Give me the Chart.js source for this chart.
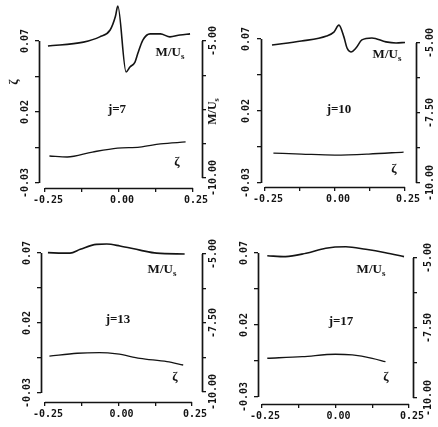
<!DOCTYPE html>
<html>
<head>
<meta charset="utf-8">
<script src="https://cdn.jsdelivr.net/npm/chart.js@4.4.0/dist/chart.umd.min.js"></script>
<style>
  html, body { margin: 0; padding: 0; background: #fff; overflow: hidden; }
  #fig { position: relative; width: 438px; height: 427px; }
  canvas { position: absolute; }
</style>
</head>
<body>
<div id="fig"></div>
<script>
// axis ticks and their labels
const xTicks = [-0.25, -0.125, 0, 0.125, 0.25];
const xTickLabels = ['-0.25', '', '0.00', '', '0.25'];
const zetaTicks = [0.07, 0.045, 0.02, -0.005, -0.03];
const zetaTickLabels = ['0.07', '', '0.02', '', '-0.03'];
const muTicks = [-5, -6.25, -7.5, -8.75, -10];
const muTickLabels = ['-5.00', '', '-7.50', '', '-10.00'];

// j = 7
const muX7 = [-0.24, -0.12, -0.065, -0.03, -0.012, -0.004, 0.024, 0.037, 0.054, 0.064, 0.081, 0.105, 0.14, 0.172, 0.206, 0.24];
const mu7 = [-5.18, -5.04, -4.85, -4.6, -4.1, -3.72, -6.13, -5.95, -5.77, -5.44, -4.96, -4.74, -4.74, -4.85, -4.78, -4.74];
const zetaX7 = [-0.235, -0.175, -0.09, -0.005, 0.07, 0.14, 0.225];
const zeta7 = [-0.011, -0.0117, -0.0082, -0.0054, -0.0047, -0.0025, -0.0011];

// j = 10
const muX10 = [-0.225, -0.12, -0.03, -0.004, 0.014, 0.032, 0.043, 0.057, 0.075, 0.096, 0.132, 0.182, 0.218, 0.25];
const mu10 = [-5.07, -4.93, -4.75, -4.61, -4.36, -4.79, -5.18, -5.32, -5.18, -4.89, -4.82, -4.96, -5.0, -4.98];
const zetaX10 = [-0.22, -0.12, 0.0, 0.12, 0.245];
const zeta10 = [-0.0092, -0.0099, -0.0106, -0.0099, -0.0085];

// j = 13
const muX13 = [-0.24, -0.165, -0.13, -0.075, -0.04, 0.005, 0.073, 0.13, 0.225];
const mu13 = [-4.95, -4.97, -4.83, -4.65, -4.64, -4.71, -4.86, -4.97, -5.0];
const zetaX13 = [-0.235, -0.14, -0.065, -0.005, 0.073, 0.165, 0.22];
const zeta13 = [-0.0036, -0.0016, -0.0012, -0.0021, -0.0052, -0.0076, -0.01];

// j = 17
const muX17 = [-0.232, -0.17, -0.1, -0.033, 0.035, 0.103, 0.17, 0.233];
const mu17 = [-4.92, -4.95, -4.83, -4.65, -4.6, -4.69, -4.81, -4.95];
const zetaX17 = [-0.232, -0.113, 0.0, 0.057, 0.125, 0.17];
const zeta17 = [-0.0031, -0.002, -0.0003, -0.0008, -0.0031, -0.0055];

const ink = '#141414';
const monoFamily = '"DejaVu Sans Mono", "Liberation Mono", monospace';
const monoFont = 'bold 10px ' + monoFamily;
const serif = '"Liberation Serif", "DejaVu Serif", serif';

// page geometry of each panel (axis lines, tick ends, text spots)
const panels = [
  { j: 7, muX: muX7, mu: mu7, zX: zetaX7, z: zeta7, cTop: 0,
    L: 39, R: 202, zTop: 41, zBot: 183, mTop: 41, mBot: 178, xAxisY: 188, xN: 45, xP: 193,
    labL: 14, labR: 11, jPos: [117, 110], muPos: [170, 53], zPos: [177, 163], titles: true },
  { j: 10, muX: muX10, mu: mu10, zX: zetaX10, z: zeta10, cTop: 0,
    L: 261, R: 416, zTop: 39, zBot: 183, mTop: 43, mBot: 183, xAxisY: 187, xN: 265, xP: 405,
    labL: 15, labR: 14, jPos: [339, 110], muPos: [387, 55], zPos: [394, 170], titles: false },
  { j: 13, muX: muX13, mu: mu13, zX: zetaX13, z: zeta13, cTop: 212,
    L: 41, R: 202, zTop: 253, zBot: 393, mTop: 254, mBot: 392, xAxisY: 402, xN: 45, xP: 192,
    labL: 14, labR: 11, jPos: [118, 320], muPos: [162, 270], zPos: [175, 378], titles: false },
  { j: 17, muX: muX17, mu: mu17, zX: zetaX17, z: zeta17, cTop: 212,
    L: 258, R: 413, zTop: 253, zBot: 397, mTop: 258, mBot: 398, xAxisY: 404, xN: 262, xP: 409,
    labL: 14, labR: 15, jPos: [341, 322], muPos: [371, 270], zPos: [386, 378], titles: false }
];

function vText(ctx, s, x, y) {
  ctx.save();
  ctx.translate(x, y);
  ctx.rotate(-Math.PI / 2);
  ctx.textAlign = 'center';
  ctx.textBaseline = 'middle';
  ctx.fillText(s, 0, 0);
  ctx.restore();
}

function muText(ctx, x, y, size, rotated) {
  ctx.save();
  ctx.translate(x, y);
  if (rotated) ctx.rotate(-Math.PI / 2);
  ctx.font = 'bold ' + size + 'px ' + serif;
  const w1 = ctx.measureText('M/U').width;
  ctx.font = 'bold ' + Math.round(size * 0.7) + 'px ' + serif;
  const w2 = ctx.measureText('s').width;
  const x0 = -(w1 + w2) / 2;
  ctx.textBaseline = 'middle';
  ctx.textAlign = 'left';
  ctx.font = 'bold ' + size + 'px ' + serif;
  ctx.fillText('M/U', x0, 0);
  ctx.font = 'bold ' + Math.round(size * 0.7) + 'px ' + serif;
  ctx.fillText('s', x0 + w1, size * 0.3);
  ctx.restore();
}

// brackets, rotated y labels and panel text
const decor = {
  id: 'decor',
  afterDraw(chart) {
    const p = chart.options.plugins.decor.panel;
    const ctx = chart.ctx;
    const { x, yL, yR } = chart.scales;
    const ox = p.L - 32, oy = p.cTop;
    ctx.save();
    ctx.strokeStyle = ink;
    ctx.lineWidth = 1.7;
    ctx.beginPath();
    ctx.moveTo(x.getPixelForValue(-0.25), x.top + 0.5);
    ctx.lineTo(x.getPixelForValue(0.25), x.top + 0.5);
    ctx.moveTo(yL.right + 0.5, yL.getPixelForValue(0.07));
    ctx.lineTo(yL.right + 0.5, yL.getPixelForValue(-0.03));
    ctx.moveTo(yR.left + 0.5, yR.getPixelForValue(-5));
    ctx.lineTo(yR.left + 0.5, yR.getPixelForValue(-10));
    ctx.stroke();

    ctx.fillStyle = ink;
    ctx.font = monoFont;
    zetaTicks.forEach((v, i) => {
      if (zetaTickLabels[i]) vText(ctx, zetaTickLabels[i], yL.right - p.labL, yL.getPixelForValue(v));
    });
    muTicks.forEach((v, i) => {
      if (!muTickLabels[i]) return;
      if (p.titles && v === -7.5) return;
      vText(ctx, muTickLabels[i], yR.left + p.labR, yR.getPixelForValue(v));
    });

    ctx.font = 'bold 13px ' + serif;
    ctx.textAlign = 'center';
    ctx.textBaseline = 'middle';
    ctx.fillText('j=' + p.j, p.jPos[0] - ox, p.jPos[1] - oy);
    ctx.fillText('\u03b6', p.zPos[0] - ox, p.zPos[1] - oy);
    muText(ctx, p.muPos[0] - ox, p.muPos[1] - oy, 13, false);

    if (p.titles) {
      ctx.font = 'bold 13px ' + serif;
      vText(ctx, '\u03b6', 15 - ox, 82 - oy);
      muText(ctx, yR.left + p.labR, yR.getPixelForValue(-7.5) + 2, 12, true);
    }
    ctx.restore();
  }
};

const fig = document.getElementById('fig');

panels.forEach(p => {
  const cLeft = p.L - 32;
  const cWidth = p.R + 32 - cLeft;
  const cHeight = p.xAxisY + 26 - p.cTop;
  const canvas = document.createElement('canvas');
  canvas.width = cWidth;
  canvas.height = cHeight;
  canvas.style.left = cLeft + 'px';
  canvas.style.top = p.cTop + 'px';
  fig.appendChild(canvas);

  const T = Math.min(p.zTop, p.mTop);
  const xs = (p.xP - p.xN) / 0.5;
  const zs = (p.zBot - p.zTop) / 0.10;
  const ms = (p.mBot - p.mTop) / 5;

  const tickGrid = { drawOnChartArea: false, drawTicks: true, tickLength: 4, color: ink, lineWidth: 1.3 };

  new Chart(canvas, {
    type: 'line',
    data: {
      datasets: [
        {
          label: 'M/Us',
          data: p.muX.map((v, i) => ({ x: v, y: p.mu[i] })),
          yAxisID: 'yR',
          borderColor: ink,
          borderWidth: 1.6,
          pointRadius: 0,
          cubicInterpolationMode: 'monotone',
          clip: false
        },
        {
          label: 'zeta',
          data: p.zX.map((v, i) => ({ x: v, y: p.z[i] })),
          yAxisID: 'yL',
          borderColor: ink,
          borderWidth: 1.3,
          pointRadius: 0,
          cubicInterpolationMode: 'monotone',
          clip: false
        }
      ]
    },
    options: {
      responsive: false,
      animation: false,
      devicePixelRatio: 1,
      layout: { padding: { top: T - p.cTop, left: 0, right: 0, bottom: 0 } },
      plugins: {
        legend: { display: false },
        tooltip: { enabled: false },
        decor: { panel: p }
      },
      scales: {
        x: {
          type: 'linear',
          position: 'bottom',
          min: -0.25 - (p.xN - p.L) / xs,
          max: 0.25 + (p.R - p.xP) / xs,
          afterBuildTicks: s => { s.ticks = xTicks.map(v => ({ value: v })); },
          afterFit: s => { s.height = 26; },
          ticks: {
            callback: (v, i) => xTickLabels[i],
            autoSkip: false,
            maxRotation: 0,
            padding: 2,
            labelOffset: 3,
            color: ink,
            font: { family: monoFamily, size: 10, weight: 'bold' }
          },
          grid: tickGrid,
          border: { display: false }
        },
        yL: {
          type: 'linear',
          position: 'left',
          max: 0.07 + (p.zTop - T) / zs,
          min: -0.03 - (p.xAxisY - p.zBot) / zs,
          afterBuildTicks: s => { s.ticks = zetaTicks.map(v => ({ value: v })); },
          afterFit: s => { s.width = 32; },
          ticks: { display: false },
          grid: tickGrid,
          border: { display: false }
        },
        yR: {
          type: 'linear',
          position: 'right',
          max: -5 + (p.mTop - T) / ms,
          min: -10 - (p.xAxisY - p.mBot) / ms,
          afterBuildTicks: s => { s.ticks = muTicks.map(v => ({ value: v })); },
          afterFit: s => { s.width = 32; },
          ticks: { display: false },
          grid: tickGrid,
          border: { display: false }
        }
      }
    },
    plugins: [decor]
  });
});
</script>
</body>
</html>
